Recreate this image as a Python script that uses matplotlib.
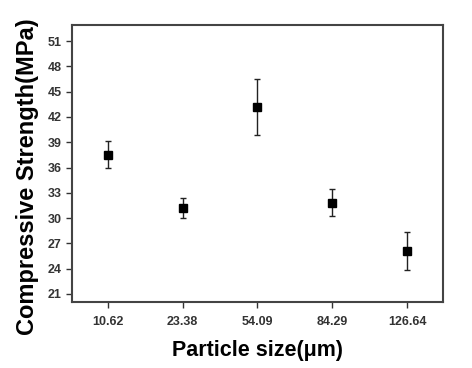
import matplotlib
matplotlib.use("Agg")
import matplotlib.pyplot as plt
import numpy as np

categories = ["10.62", "23.38", "54.09", "84.29", "126.64"]
strength = [37.5, 31.2, 43.2, 31.8, 26.1]
err_low = [1.6, 1.2, 3.4, 1.6, 2.2]
err_high = [1.7, 1.2, 3.3, 1.6, 2.2]
yticks = [21, 24, 27, 30, 33, 36, 39, 42, 45, 48, 51]

plt.rcParams['font.family'] = ['Liberation Sans', 'DejaVu Sans']

fig = plt.figure(figsize=(4.72, 3.68), dpi=100)
ax = fig.add_axes([72/472, 1-302/368, (443-72)/472, (302-25)/368])

x = np.arange(1, len(categories)+1)
ax.errorbar(x, strength, yerr=[err_low, err_high], fmt='s', color='black',
            ecolor='#222222', elinewidth=1.0, capsize=2.5, capthick=1.0,
            markersize=5.5)

ax.set_xlim(0.52, 5.48)
ax.set_ylim(20.05, 52.9)
ax.set_xticks(x)
ax.set_xticklabels(categories)
ax.set_yticks(yticks)
ax.tick_params(axis='both', direction='out', length=4, width=1, colors='#333333',
               labelsize=9, labelcolor='#333333')
ax.tick_params(axis='x', pad=6)
for lbl in ax.get_xticklabels() + ax.get_yticklabels():
    lbl.set_fontweight('bold')
for s in ax.spines.values():
    s.set_linewidth(1.5)
    s.set_color('#444444')

ax.set_ylabel("Compressive Strength(MPa)", fontsize=17, fontweight='bold')
ax.yaxis.set_label_coords(-0.09, 0.452)
ax.set_xlabel("Particle size(μm)", fontsize=15.5, fontweight='bold', labelpad=9)

fig.savefig("out.png", dpi=100)
